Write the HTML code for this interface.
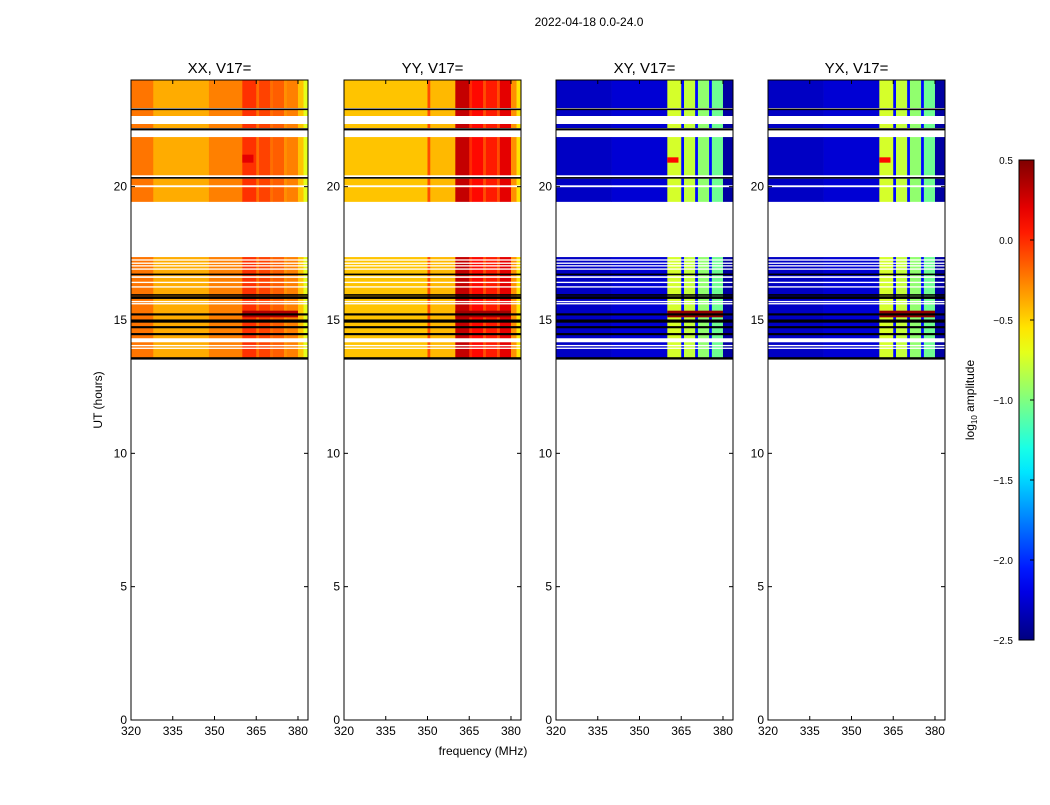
<!DOCTYPE html>
<html><head><meta charset="utf-8"><style>
body{margin:0;background:#fff;}
svg text{font-family:"Liberation Sans",sans-serif;}
</style></head><body>
<svg id="fig" width="1050" height="800" xmlns="http://www.w3.org/2000/svg">
<text x="589" y="26" font-size="12" text-anchor="middle">2022-04-18 0.0-24.0</text>
<text x="483" y="755" font-size="12" text-anchor="middle">frequency (MHz)</text>
<text transform="translate(102,400) rotate(-90)" font-size="12" text-anchor="middle">UT (hours)</text>
<g id="panels"></g>
<g id="cbar"></g>
</svg>
<script>
const panelNames = ["XX, V17=", "YY, V17=", "XY, V17=", "YX, V17="];
const panelLeft = [131, 344, 556, 768];
const xTicks = [320, 335, 350, 365, 380];
const yTicks = [0, 5, 10, 15, 20];
const cbarTicks = [0.5, 0.0, -0.5, -1.0, -1.5, -2.0, -2.5];
// time intervals with data (hours)
const dataIntervals = [[22.95,24],[22.65,22.88],[22.2,22.35],[20.42,21.86],[20.05,20.3],[19.43,19.98],[13.56,17.36]];
// frequency profile segments [f0,f1,log amplitude]
const profXX = [[320,328,-0.22],[328,348,-0.38],[348,360,-0.25],[360,365,-0.02],[365,366,-0.2],[366,370,-0.07],[370,371,-0.2],[371,375,-0.15],[375,376,-0.3],[376,380,-0.25],[380,382,-0.45],[382,384,-0.7]];
const profYY = [[320,350,-0.45],[350,351,-0.1],[351,360,-0.42],[360,365,0.3],[365,366,0.0],[366,370,0.1],[370,371,-0.1],[371,375,0.05],[375,376,-0.1],[376,380,0.2],[380,382,-0.3],[382,384,-0.55]];
const profXY = [[320,340,-2.3],[340,360,-2.25],[360,365,-0.75],[365,366,-2.1],[366,370,-0.8],[370,371,-2.1],[371,375,-0.95],[375,376,-2.1],[376,380,-1.05],[380,384,-2.4]];
const profYX = [[320,340,-2.3],[340,360,-2.25],[360,365,-0.75],[365,366,-2.1],[366,370,-0.8],[370,371,-2.1],[371,375,-0.95],[375,376,-2.1],[376,380,-1.05],[380,384,-2.4]];
const profiles = [profXX, profYY, profXY, profYX];
// hot blocks [panel, t0, t1, f0, f1, value]
const hotBlocks = [[0,15.1,15.35,360,380,0.35],[1,15.1,15.35,360,380,0.4],[2,15.1,15.35,360,380,0.45],[3,15.1,15.35,360,380,0.45],[2,20.9,21.1,360,364,0.1],[3,20.9,21.1,360,364,0.1],[0,20.9,21.2,360,364,0.2]];
// separator lines [hour, color, thickness hours]
const sepLines = [[22.9,"#000",0.06],[22.15,"#000",0.08],[20.33,"#000",0.06],[20.4,"#fff",0.05],[20.02,"#fff",0.05],
 [17.25,"#fff",0.05],[17.13,"#fff",0.05],[17.03,"#fff",0.05],[16.91,"#fff",0.05],[16.71,"#000",0.06],[16.61,"#fff",0.06],[16.41,"#fff",0.05],[16.24,"#fff",0.05],
 [15.94,"#000",0.06],[15.84,"#000",0.1],[15.69,"#fff",0.05],[15.61,"#fff",0.05],[15.21,"#000",0.08],[14.96,"#000",0.12],[14.73,"#000",0.08],[14.47,"#000",0.08],
 [14.24,"#fff",0.15],[14.04,"#fff",0.05],[13.94,"#fff",0.05],[13.56,"#000",0.09]];

const NS="http://www.w3.org/2000/svg";
const yTop=80, yBot=720, pw=177, fmin=320, fmax=383.6;
function yS(h){return yBot-(h/24)*(yBot-yTop);}
function xS(i,f){return panelLeft[i]+(f-fmin)/(fmax-fmin)*pw;}
function clip(v){return Math.max(0,Math.min(1,v));}
function jet(v){const x=clip((v+2.5)/3);
 const r=clip(1.5-Math.abs(4*x-3)),g=clip(1.5-Math.abs(4*x-2)),b=clip(1.5-Math.abs(4*x-1));
 return `rgb(${Math.round(r*255)},${Math.round(g*255)},${Math.round(b*255)})`;}
function el(tag,attrs,parent){const e=document.createElementNS(NS,tag);for(const k in attrs)e.setAttribute(k,attrs[k]);parent.appendChild(e);return e;}
const G=document.getElementById("panels");
panelNames.forEach((name,i)=>{
 const g=el("g",{},G);
 
 
 dataIntervals.forEach(iv=>{
  profiles[i].forEach(s=>{
   const r=el("rect",{x:xS(i,s[0]),y:yS(iv[1]),width:xS(i,Math.min(s[1],fmax))-xS(i,s[0])+0.3,height:yS(iv[0])-yS(iv[1]),fill:jet(s[2])},g);
   
   
  });
 });
 hotBlocks.filter(b=>b[0]===i).forEach(b=>{
  const r=el("rect",{x:xS(i,b[3]),y:yS(b[2]),width:xS(i,b[4])-xS(i,b[3]),height:yS(b[1])-yS(b[2]),fill:jet(b[5])},g);
  
  
 });
 sepLines.forEach(l=>{
  const r=el("rect",{x:panelLeft[i],y:yS(l[0]+l[2]/2),width:pw,height:Math.max(1,l[2]/24*(yBot-yTop)),fill:l[1]},g);
  
  
 });
 const fr=el("rect",{x:panelLeft[i],y:yTop,width:pw,height:yBot-yTop,fill:"none",stroke:"#000","stroke-width":1},g);
 
 
 const t=el("text",{x:panelLeft[i]+pw/2,y:73,"font-size":15,"text-anchor":"middle"},g);
 t.textContent=name;
 
 
 xTicks.forEach(f=>{
  const x=xS(i,f);
  el("line",{x1:x,x2:x,y1:yBot,y2:yBot-4,stroke:"#000"},g);
  el("line",{x1:x,x2:x,y1:yTop,y2:yTop+4,stroke:"#000"},g);
  const tx=el("text",{x:x,y:yBot+15,"font-size":12,"text-anchor":"middle"},g);
  tx.textContent=f;
  
  
 });
 yTicks.forEach(h=>{
  const y=yS(h);
  el("line",{x1:panelLeft[i],x2:panelLeft[i]+4,y1:y,y2:y,stroke:"#000"},g);
  el("line",{x1:panelLeft[i]+pw,x2:panelLeft[i]+pw-4,y1:y,y2:y,stroke:"#000"},g);
  const ty=el("text",{x:panelLeft[i]-4,y:y+4,"font-size":12,"text-anchor":"end"},g);
  ty.textContent=h;
  
  
 });
});
// colorbar
const C=document.getElementById("cbar");
const cx=1019,cw=15,ct=160,cb=640;
const defs=el("defs",{},C);
const lg=el("linearGradient",{id:"jetg",x1:0,y1:1,x2:0,y2:0},defs);
for(let k=0;k<=20;k++){el("stop",{offset:k/20,"stop-color":jet(-2.5+3*k/20)},lg);}
const cr=el("rect",{x:cx,y:ct,width:cw,height:cb-ct,fill:"url(#jetg)",stroke:"#000"},C);


cbarTicks.forEach(v=>{
 const y=cb-(v+2.5)/3*(cb-ct);
 el("line",{x1:cx+cw-4,x2:cx+cw,y1:y,y2:y,stroke:"#000"},C);
 const t=el("text",{x:cx-6,y:y+4,"font-size":10,"text-anchor":"end"},C);
 t.textContent=v.toFixed(1).replace("-","\u2212");
 
 
});
const cl=el("text",{transform:"translate(974,400) rotate(-90)","font-size":12,"text-anchor":"middle"},C);
cl.innerHTML='log<tspan font-size="8" dy="3">10</tspan><tspan dy="-3"> amplitude</tspan>';


</script>
</body></html>
